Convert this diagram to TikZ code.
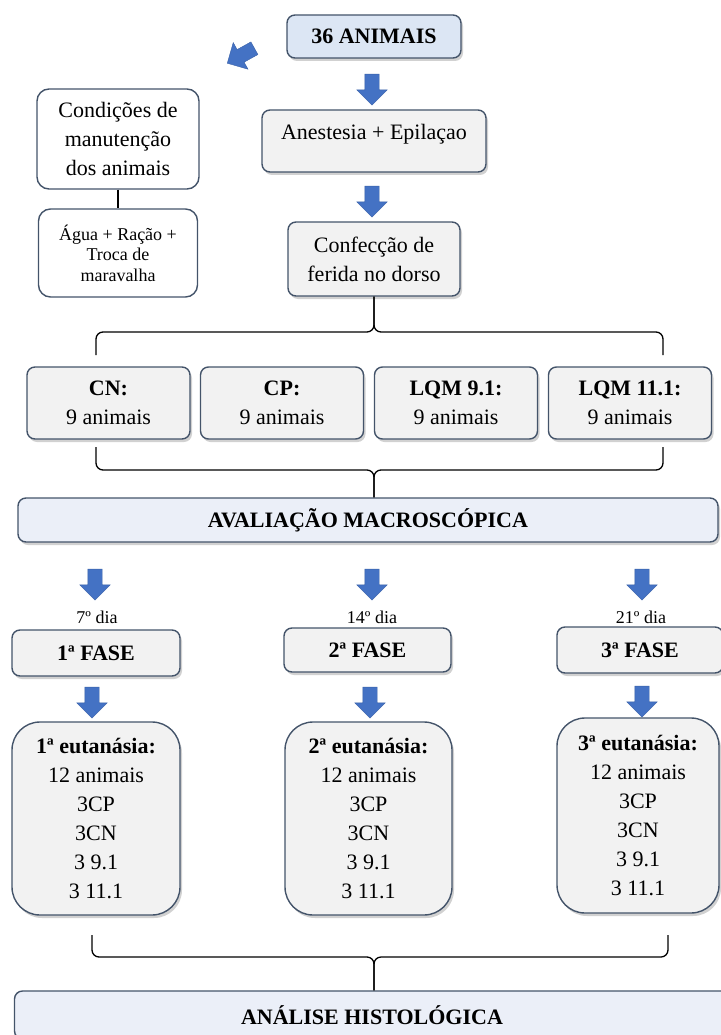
\documentclass[tikz,border=0pt]{standalone}
\usepackage{fontspec}
\setmainfont{Liberation Serif}
\usepackage{xcolor}
\usetikzlibrary{shapes.arrows,shadows}

\definecolor{framecol}{HTML}{44546A}
\definecolor{arrowcol}{HTML}{4472C4}
\definecolor{bluefill}{HTML}{DCE6F4}
\definecolor{palefill}{HTML}{EBEFF8}
\definecolor{grayfill}{HTML}{F2F2F2}

\tikzset{
  box/.style={draw=framecol, line width=1.4pt, rounded corners=8pt, fill=grayfill,
    align=center, inner sep=0pt,
    drop shadow={shadow xshift=2pt, shadow yshift=-3pt, opacity=0.3, fill=black!60}},
  plainbox/.style={draw=framecol, line width=1.4pt, rounded corners=12pt, fill=white,
    align=center, inner sep=0pt},
  bigbox/.style={box, rounded corners=28pt},
  downarrow/.style={single arrow, fill=arrowcol, draw=arrowcol!85!black, line width=0.4pt,
    minimum height=31pt, inner sep=7pt, single arrow head extend=8pt, rotate=-90},
  brace/.style={line width=1.3pt, rounded corners=7pt},
  txt/.style={font=\fontsize{22}{29}\selectfont},
  smalltxt/.style={font=\fontsize{18}{20.5}\selectfont},
  daytxt/.style={font=\fontsize{18}{20}\selectfont}
}

\begin{document}
\begin{tikzpicture}[x=1pt, y=-1pt]
	\useasboundingbox (0,0) rectangle (720,1035);

	% top column
	\node[box, fill=bluefill, txt, minimum width=174pt, minimum height=43pt] (animais) at (374,36.5) {\textbf{36 ANIMAIS}};
	\node[downarrow, rotate=-61] (dg) at (244,54) {};
	\node[downarrow] (a1) at (372,86) {};
	\node[box, txt, minimum width=224pt, minimum height=62pt, text depth=18pt] (anestesia) at (374,141) {Anestesia + Epilaçao};
	\node[downarrow] (a2) at (372,198) {};
	\node[box, txt, minimum width=172pt, minimum height=74pt] (ferida) at (374,259) {Confecção de\\ ferida no dorso};

	% maintenance
	\node[plainbox, txt, minimum width=162pt, minimum height=100pt] (condicoes) at (118,139) {Condições de\\ manutenção\\ dos animais};
	\node[plainbox, smalltxt, minimum width=159pt, minimum height=88pt] (agua) at (118,253) {Água + Ração +\\ Troca de\\ maravalha};
	\draw[line width=1.2pt] (condicoes.south) -- (agua.north);

	% groups
	\draw[brace] (96,355) -- (96,332) -- (374,332) -- (ferida.south);
	\draw[brace] (663,355) -- (663,332) -- (374,332) -- (ferida.south);
	\node[box, txt, minimum width=163pt, minimum height=72pt] (cn) at (108.5,403) {\textbf{CN:}\\ 9 animais};
	\node[box, txt, minimum width=163pt, minimum height=72pt] (cp) at (282,403) {\textbf{CP:}\\ 9 animais};
	\node[box, txt, minimum width=163pt, minimum height=72pt] (lqm9) at (456,403) {\textbf{LQM 9.1:}\\ 9 animais};
	\node[box, txt, minimum width=163pt, minimum height=72pt] (lqm11) at (630,403) {\textbf{LQM 11.1:}\\ 9 animais};

	\node[box, fill=palefill, txt, minimum width=700pt, minimum height=44pt] (macro) at (368,520) {\textbf{AVALIAÇÃO MACROSCÓPICA}};
	\draw[brace] (96,447) -- (96,470) -- (374,470) -- (macro.north -| 374,0);
	\draw[brace] (663,447) -- (663,470) -- (374,470) -- (macro.north -| 374,0);

	% phases
	\node[downarrow] (b1) at (95,581) {};
	\node[downarrow] (b2) at (372,581) {};
	\node[downarrow] (b3) at (642,581) {};
	\node[daytxt] (d1) at (97,617) {7º dia};
	\node[daytxt] (d2) at (372,617) {14º dia};
	\node[daytxt] (d3) at (641,617) {21º dia};
	\node[box, txt, minimum width=168pt, minimum height=46pt] (fase1) at (96,653) {\textbf{1ª FASE}};
	\node[box, txt, minimum width=167pt, minimum height=44pt] (fase2) at (367.5,650) {\textbf{2ª FASE}};
	\node[box, txt, minimum width=166pt, minimum height=46pt] (fase3) at (640,650) {\textbf{3ª FASE}};
	\node[downarrow] (c1) at (92,699) {};
	\node[downarrow] (c2) at (370,699) {};
	\node[downarrow] (c3) at (642,698) {};

	\node[bigbox, txt, minimum width=168pt, minimum height=193pt] (eut1) at (96,818.5) {\textbf{1ª eutanásia:}\\ 12 animais\\ 3CP\\ 3CN\\ 3 9.1\\ 3 11.1};
	\node[bigbox, txt, minimum width=167pt, minimum height=193pt] (eut2) at (368.5,818.5) {\textbf{2ª eutanásia:}\\ 12 animais\\ 3CP\\ 3CN\\ 3 9.1\\ 3 11.1};
	\node[bigbox, txt, minimum width=162pt, minimum height=195pt] (eut3) at (638,815.5) {\textbf{3ª eutanásia:}\\ 12 animais\\ 3CP\\ 3CN\\ 3 9.1\\ 3 11.1};

	\node[box, fill=palefill, txt, minimum width=715pt, minimum height=48pt] (histo) at (372,1015) {\textbf{ANÁLISE HISTOLÓGICA}};
	\draw[brace] (92,935) -- (92,957) -- (374,957) -- (histo.north -| 374,0);
	\draw[brace] (668,935) -- (668,957) -- (374,957) -- (histo.north -| 374,0);
\end{tikzpicture}
\end{document}
